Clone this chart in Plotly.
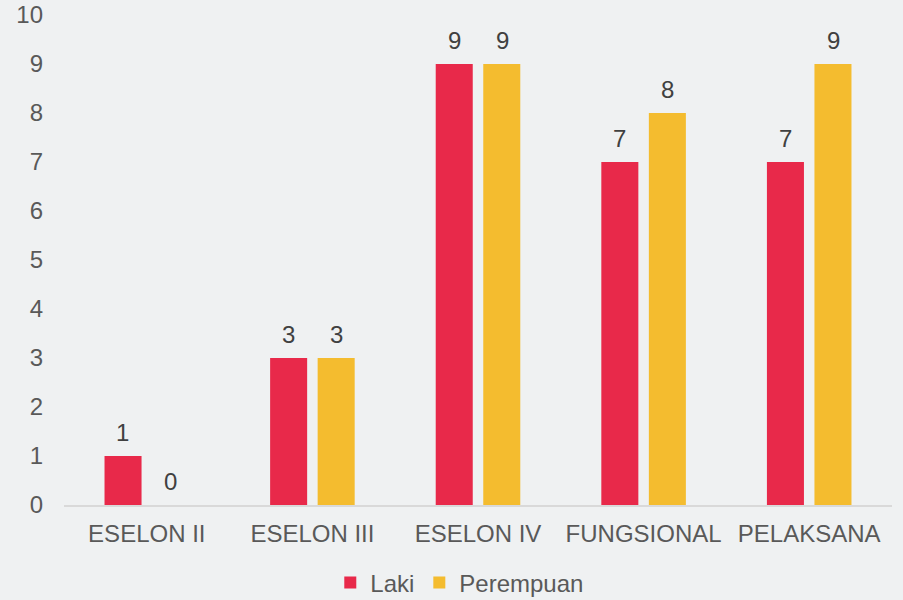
import plotly.graph_objects as go

categories = ["ESELON II", "ESELON III", "ESELON IV", "FUNGSIONAL", "PELAKSANA"]
laki = [1, 3, 9, 7, 7]
perempuan = [0, 3, 9, 8, 9]
y_ticks = list(range(0, 11))

FONT = "Liberation Sans, Arial, sans-serif"
RED = "#e8294a"
YELLOW = "#f4bc2f"

fig = go.Figure()
fig.add_trace(go.Bar(name="Laki", x=categories, y=laki,
                     marker=dict(color=RED, line=dict(width=0))))
fig.add_trace(go.Bar(name="Perempuan", x=categories, y=perempuan,
                     marker=dict(color=YELLOW, line=dict(width=0))))

# value labels floating above each bar (offset to the bar's slot in the group)
for series, shift in ((laki, -24), (perempuan, 24)):
    for cat, val in zip(categories, series):
        fig.add_annotation(x=cat, y=val, xref="x", yref="y", text=str(val),
                           showarrow=False, xshift=shift, yshift=24,
                           xanchor="center", yanchor="middle",
                           font=dict(family=FONT, size=24, color="#404040"))

fig.update_layout(
    width=903, height=600,
    margin=dict(l=64, r=11, t=15, b=95, autoexpand=False),
    paper_bgcolor="#eff1f2", plot_bgcolor="rgba(0,0,0,0)",
    barmode="group", bargap=0.426, bargroupgap=0.221,
    font=dict(family=FONT, size=24, color="#595959"),
    showlegend=True,
    legend=dict(orientation="h", x=0.478, xanchor="center", y=-0.159, yanchor="middle",
                font=dict(size=24, color="#595959"), itemwidth=30,
                bgcolor="rgba(0,0,0,0)"),
)
fig.update_xaxes(showline=True, linecolor="#d9d9d9", linewidth=2, showgrid=False,
                 ticks="", ticklabelstandoff=6, automargin=False,
                 tickfont=dict(family=FONT, size=24, color="#595959"))
fig.update_yaxes(range=[0, 10], tickvals=y_ticks, showgrid=False, zeroline=False,
                 showline=False, ticks="", ticklabelstandoff=20, automargin=False,
                 tickfont=dict(family=FONT, size=24, color="#595959"))

fig.write_html("out.html")
